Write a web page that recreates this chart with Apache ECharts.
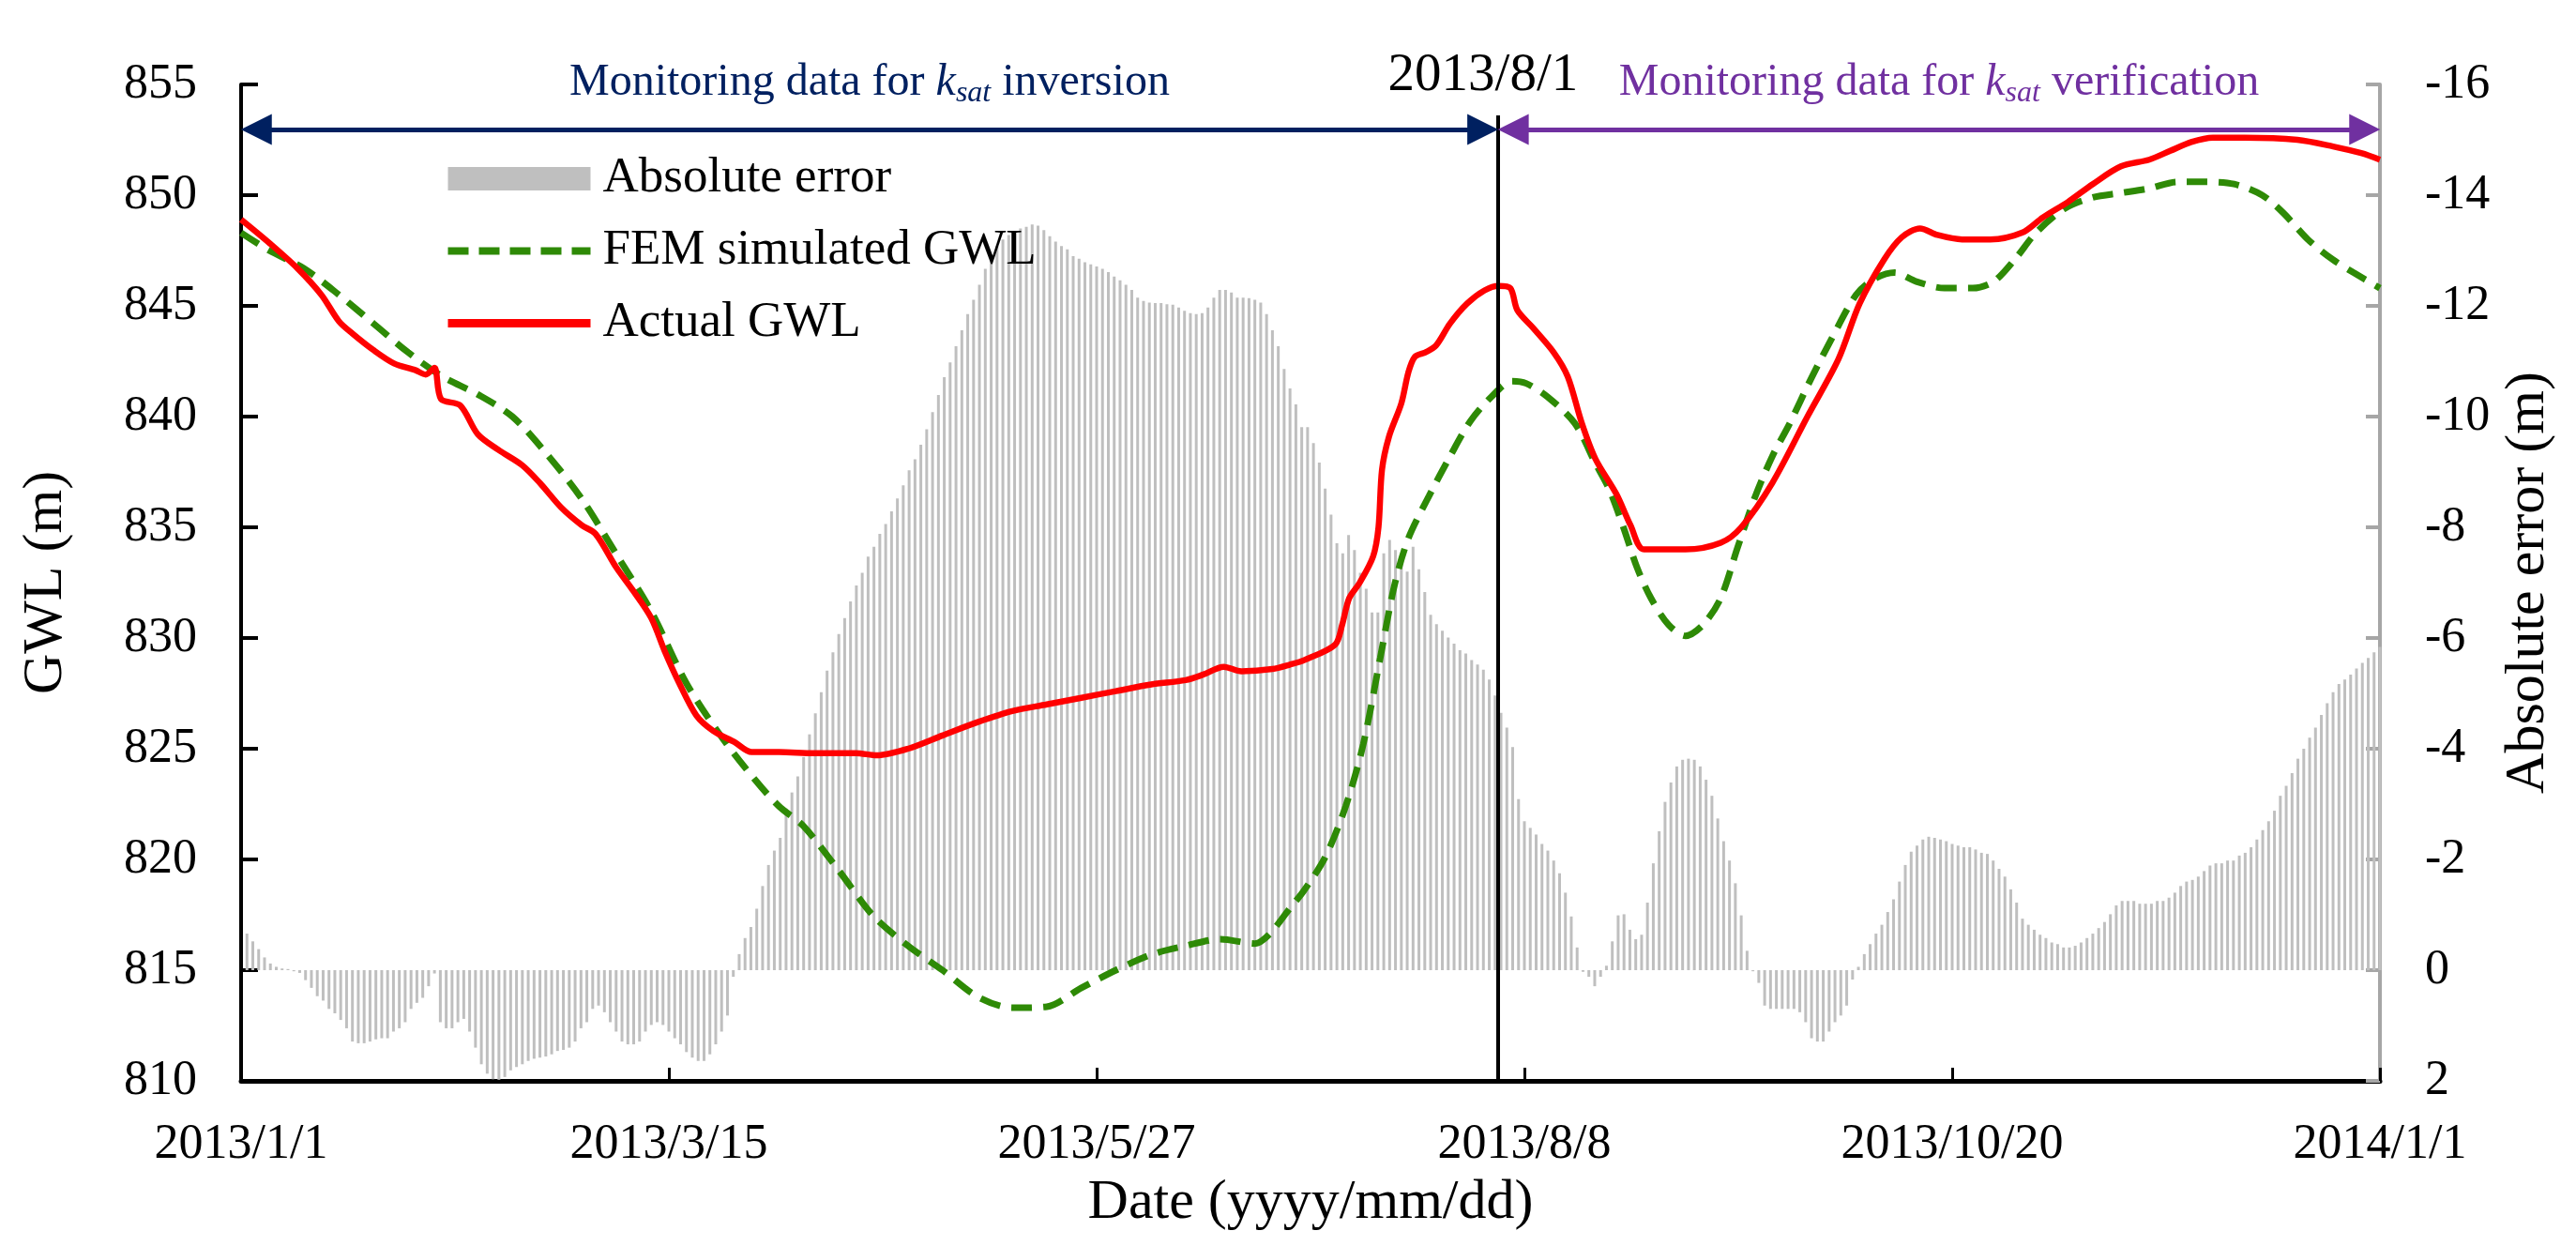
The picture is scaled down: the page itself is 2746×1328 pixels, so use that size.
<!DOCTYPE html>
<html>
<head>
<meta charset="utf-8">
<script src="https://cdn.jsdelivr.net/npm/echarts@6/dist/echarts.min.js"></script>
<style>
html,body{margin:0;padding:0;background:#fff;}
#chart{width:2746px;height:1328px;}
</style>
</head>
<body>
<div id="chart"></div>
<script>
// ---------- data ----------
// x values are day numbers counted from 2013/1/1 (day 0) to 2014/1/1 (day 365)
const xTickLabels = ['2013/1/1', '2013/3/15', '2013/5/27', '2013/8/8', '2013/10/20', '2014/1/1'];
const splitDay = 214.5;          // vertical line "2013/8/1"
const arrowLevel = 852.97;       // GWL level of the two range arrows

// Actual GWL [day, m]
const actualGWL = [
  [0,848.9],[5,847.8],[9.6,846.7],[13.7,845.5],[16.7,844.3],[19,843.75],[22.6,843.0],[26.1,842.4],
  [29.7,842.1],[31.5,841.9],[33,842.2],[34.1,840.8],[37.4,840.5],[40.4,839.2],[43.9,838.5],[48,837.8],
  [51,837.0],[54.6,835.9],[58.1,835.1],[60.5,834.7],[64,833.2],[67,832.1],[70,830.9],[72.3,829.4],
  [74.7,828.0],[77.7,826.5],[80.6,825.8],[84.2,825.3],[87.1,824.85],[91.8,824.85],[97.8,824.8],
  [104.9,824.8],[108.5,824.7],[113.8,825.0],[119.7,825.6],[125.7,826.2],[131.6,826.7],[137.5,827.0],
  [143.4,827.3],[149.3,827.6],[155.3,827.9],[161.2,828.1],[164.2,828.35],[167.7,828.7],[170.7,828.5],
  [176,828.6],[179,828.8],[181.4,829.0],[186.7,829.7],[187.9,830.6],[189.1,831.8],[190.9,832.5],
  [193.2,833.7],[194.1,835.0],[194.7,837.6],[195.9,839.1],[198.0,840.6],[199.2,842.0],[200.3,842.7],
  [202.1,842.9],[203.9,843.2],[206.3,844.2],[209.2,845.1],[212.2,845.7],[214.6,845.9],[216.6,845.8],
  [217.8,844.8],[220.5,844.0],[224.0,842.9],[226.4,841.8],[228.8,839.7],[231.1,838.1],[234.7,836.5],
  [237.1,835.1],[239.4,834.0],[246.5,834.0],[252.5,834.3],[256,835.0],[261.3,837.0],[267.3,840.0],
  [272.6,842.6],[276.2,845.1],[280.4,847.1],[283.4,848.1],[286.5,848.5],[289.5,848.2],[293.7,848.0],
  [298.5,848.0],[303.9,848.3],[307.5,849.0],[311.8,849.7],[316,850.5],[320.8,851.3],[325.6,851.6],
  [329.2,852.0],[332.8,852.4],[336.5,852.6],[341.9,852.6],[350.9,852.5],[357,852.2],[361.8,851.9],[365,851.6]
];

// FEM simulated GWL [day, m]
const femGWL = [
  [0,848.3],[4.8,847.5],[10.7,846.7],[16.7,845.5],[22.6,844.2],[28.5,842.9],[34.4,841.8],[40.4,841.0],
  [46.3,840.0],[52.2,838.3],[58.1,836.3],[64,833.8],[70,831.2],[75.9,828.0],[81.8,825.6],[87.7,823.6],
  [91.8,822.4],[96,821.5],[102,819.5],[107.9,817.45],[113.8,816.1],[119.7,815.0],[125.7,813.8],
  [131.6,813.3],[137.5,813.35],[143.4,814.2],[149.3,815.0],[155.3,815.7],[161.2,816.1],[167.1,816.4],
  [173,816.2],[175.4,816.6],[179,817.8],[181.4,818.6],[185,820.1],[188.5,822.4],[191.5,825.2],
  [194.4,829.1],[196.8,832.35],[199.2,834.5],[202.7,836.4],[206.3,838.2],[209.8,839.8],[213.4,840.9],
  [216.9,841.6],[219.3,841.5],[222.9,840.9],[227.6,839.7],[231.1,837.9],[233.5,836.7],[235.9,835.0],
  [238.2,833.2],[240.6,831.8],[243.6,830.6],[246.5,830.1],[249.5,830.6],[252.5,831.8],[255.4,834.1],
  [258.4,836.4],[261.3,838.2],[264.3,839.7],[267.9,841.7],[271.4,843.5],[275.6,845.5],[278.6,846.2],
  [282.2,846.5],[285.9,846.1],[290.7,845.8],[295.5,845.8],[299.1,846.1],[302.7,847.1],[306.3,848.3],
  [311.2,849.4],[316,849.9],[320.8,850.1],[325.6,850.3],[330.4,850.6],[335.3,850.6],[340.1,850.5],
  [344.9,850.0],[348.5,849.2],[352.7,848.0],[356.9,847.1],[360.5,846.5],[365,845.8]
];

// Absolute error (m), one value per day, day 1 .. day 365
const absErrStartDay = 1;
const absErr = [
  -0.66,-0.52,-0.38,-0.23,-0.12,-0.06,-0.03,-0.02,0.02,0.05,
  0.18,0.32,0.47,0.55,0.70,0.78,0.90,1.05,1.29,1.32,
  1.32,1.29,1.25,1.23,1.23,1.11,1.05,0.94,0.70,0.59,
  0.50,0.29,0.06,0.94,1.05,1.05,0.94,0.88,1.11,1.40,
  1.70,1.87,1.97,1.98,1.93,1.81,1.75,1.70,1.64,1.60,
  1.58,1.56,1.52,1.46,1.44,1.40,1.29,1.05,0.94,0.70,
  0.64,0.76,0.94,1.11,1.29,1.34,1.34,1.29,1.11,0.99,
  0.94,0.99,1.11,1.23,1.34,1.48,1.58,1.64,1.64,1.52,
  1.34,1.11,0.82,0.12,-0.29,-0.58,-0.78,-1.11,-1.52,
  -1.90,-2.16,-2.39,-2.92,-3.21,-3.50,-3.85,-4.26,-4.64,-5.02,
  -5.41,-5.74,-6.07,-6.36,-6.66,-6.95,-7.18,-7.47,-7.65,-7.88,
  -8.06,-8.29,-8.52,-8.76,-9.03,-9.23,-9.49,-9.77,-10.08,-10.39,
  -10.71,-10.98,-11.27,-11.56,-11.85,-12.11,-12.38,-12.67,-12.93,-13.08,
  -13.20,-13.28,-13.31,-13.40,-13.43,-13.47,-13.45,-13.37,-13.26,-13.16,
  -13.08,-13.02,-12.90,-12.85,-12.79,-12.75,-12.71,-12.67,-12.61,-12.53,
  -12.46,-12.38,-12.29,-12.15,-12.09,-12.06,-12.05,-12.05,-12.03,-12.02,
  -11.97,-11.91,-11.87,-11.85,-11.87,-11.97,-12.15,-12.29,-12.29,-12.24,
  -12.15,-12.15,-12.14,-12.11,-12.06,-11.85,-11.56,-11.27,-10.86,-10.51,
  -10.22,-9.81,
  -9.81,-9.52,-9.17,-8.70,-8.23,-7.71,-7.53,-7.86,-7.59,-7.18,
  -6.89,-6.46,-6.46,-7.53,-7.77,-7.59,-7.47,-7.20,-7.65,-7.24,
  -6.83,-6.42,-6.25,-6.13,-6.01,-5.90,-5.78,-5.72,-5.60,-5.52,
  -5.43,-5.25,-4.96,-4.65,-4.38,-4.03,-3.09,-2.69,-2.57,-2.45,
  -2.28,-2.16,-1.98,-1.75,-1.40,-0.97,-0.41,0.03,0.12,0.29,
  0.12,-0.08,-0.52,-0.99,-1.01,-0.73,-0.56,-0.64,-1.22,-1.93,
  -2.51,-3.04,-3.39,-3.68,-3.80,-3.82,-3.80,-3.68,-3.44,-3.15,
  -2.74,-2.33,-1.98,-1.57,-0.99,-0.35,0.02,0.23,0.64,0.70,
  0.70,0.70,0.70,0.70,0.76,0.94,1.23,1.29,1.29,1.11,
  0.94,0.82,0.64,
  0.17,-0.06,-0.29,-0.47,-0.66,-0.82,-1.05,-1.28,-1.60,-1.90,
  -2.14,-2.25,-2.36,-2.41,-2.39,-2.36,-2.33,-2.28,-2.25,-2.22,
  -2.22,-2.18,-2.12,-2.10,-1.98,-1.83,-1.69,-1.46,-1.22,-0.93,
  -0.82,-0.73,-0.64,-0.58,-0.50,-0.47,-0.41,-0.41,-0.44,-0.50,
  -0.58,-0.66,-0.76,-0.87,-1.01,-1.17,-1.25,-1.25,-1.25,-1.20,
  -1.20,-1.20,-1.25,-1.25,-1.31,-1.40,-1.52,-1.60,-1.63,-1.69,
  -1.79,-1.89,-1.93,-1.93,-1.98,-1.98,-2.07,-2.12,-2.22,-2.36,
  -2.53,-2.69,-2.88,-3.15,-3.33,-3.56,-3.82,-4.00,-4.20,-4.38,
  -4.61,-4.82,-5.02,-5.17,-5.25,-5.34,-5.45,-5.55,-5.64,-5.74,-5.84
];

// ---------- chart ----------
const FONT = 'Liberation Serif';
const chart = echarts.init(document.getElementById('chart'), null, {renderer: 'canvas'});

const barData = absErr.map((v, i) => [absErrStartDay + i, v]);

const titleRich = (color) => ({
  n: {fontFamily: FONT, fontSize: 48, color: color, lineHeight: 56, verticalAlign: 'middle'},
  k: {fontFamily: FONT, fontSize: 48, color: color, fontStyle: 'italic', lineHeight: 56, verticalAlign: 'middle'},
  s: {fontFamily: FONT, fontSize: 32, color: color, fontStyle: 'italic', lineHeight: 30, verticalAlign: 'bottom'}
});

const option = {
  animation: false,
  backgroundColor: '#ffffff',
  grid: {left: 257, right: 209, top: 90, bottom: 176, containLabel: false},
  legend: {
    orient: 'vertical', left: 473, top: 164, padding: 0,
    itemWidth: 152, itemHeight: 25, itemGap: 24,
    textStyle: {fontFamily: FONT, fontSize: 53, color: '#000', padding: [0, 0, 0, 8]},
    lineStyle: {width: 8},
    data: [
      {name: 'Absolute error', icon: 'rect'},
      {name: 'FEM simulated GWL', itemStyle: {opacity: 0}, lineStyle: {width: 8, type: [22, 11]}},
      {name: 'Actual GWL', itemStyle: {opacity: 0}, lineStyle: {width: 9, type: 'solid'}}
    ]
  },
  xAxis: {
    type: 'value', min: 0, max: 365, interval: 73,
    name: 'Date (yyyy/mm/dd)', nameLocation: 'middle', nameGap: 100,
    nameTextStyle: {fontFamily: FONT, fontSize: 60, color: '#000'},
    axisLine: {show: true, onZero: false, lineStyle: {color: '#000', width: 5}},
    axisTick: {show: true, inside: true, length: 14, lineStyle: {color: '#000', width: 3}},
    axisLabel: {
      fontFamily: FONT, fontSize: 52, color: '#000', margin: 42,
      showMinLabel: true, showMaxLabel: true,
      formatter: (v) => xTickLabels[Math.round(v / 73)]
    },
    splitLine: {show: false}
  },
  yAxis: [
    {
      type: 'value', min: 810, max: 855, interval: 5, position: 'left',
      name: 'GWL (m)', nameLocation: 'middle', nameGap: 178,
      nameTextStyle: {fontFamily: FONT, fontSize: 60, color: '#000'},
      axisLine: {show: true, lineStyle: {color: '#000', width: 4}},
      axisTick: {show: true, inside: true, length: 18, lineStyle: {color: '#000', width: 4}},
      axisLabel: {fontFamily: FONT, fontSize: 52, color: '#000', margin: 47},
      splitLine: {show: false}
    },
    {
      type: 'value', min: -16, max: 2, interval: 2, position: 'right', inverse: true,
      name: 'Absolute error (m)', nameLocation: 'middle', nameGap: 118,
      nameTextStyle: {fontFamily: FONT, fontSize: 60, color: '#000'},
      axisLine: {show: true, lineStyle: {color: '#a6a6a6', width: 4}},
      axisTick: {show: true, inside: true, length: 15, lineStyle: {color: '#a6a6a6', width: 4}},
      axisLabel: {fontFamily: FONT, fontSize: 52, color: '#000', margin: 48},
      splitLine: {show: false}
    }
  ],
  series: [
    {
      name: 'Absolute error', type: 'bar', yAxisIndex: 1, barWidth: 3,
      itemStyle: {color: '#bfbfbf'}, data: barData, silent: true
    },
    {
      name: 'FEM simulated GWL', type: 'line', yAxisIndex: 0, smooth: 0.3,
      showSymbol: false, symbol: 'none',
      lineStyle: {color: '#2e8a06', width: 7, type: [22, 12]},
      itemStyle: {color: '#2e8a06'},
      data: femGWL, silent: true, z: 3
    },
    {
      name: 'Actual GWL', type: 'line', yAxisIndex: 0, smooth: 0.3,
      showSymbol: false, symbol: 'none',
      lineStyle: {color: '#ff0000', width: 6.5},
      itemStyle: {color: '#ff0000'},
      data: actualGWL, silent: true, z: 4,
      markLine: {
        silent: true, animation: false, precision: 4,
        symbol: ['none', 'none'],
        data: [
          [
            {coord: [splitDay, 853.6], symbol: 'none',
             lineStyle: {color: '#000', width: 4, type: 'solid'},
             label: {show: true, position: 'start', formatter: '2013/8/1',
                     fontFamily: FONT, fontSize: 57, color: '#000', distance: 14, padding: [0, 32, 0, 0]}},
            {coord: [splitDay, 810], symbol: 'none'}
          ],
          [
            {coord: [2.6, arrowLevel], symbol: 'triangle', symbolSize: [33, 33],
             lineStyle: {color: '#002060', width: 5, type: 'solid'},
             itemStyle: {color: '#002060'},
             label: {show: true, position: 'insideMiddleTop', distance: 22,
                     formatter: '{n|Monitoring data for }{k|k}{s|sat}{n| inversion}',
                     rich: titleRich('#002060')}},
            {coord: [splitDay - 2.6, arrowLevel], symbol: 'triangle', symbolSize: [33, 33]}
          ],
          [
            {coord: [splitDay + 2.6, arrowLevel], symbol: 'triangle', symbolSize: [33, 33],
             lineStyle: {color: '#7030a0', width: 5, type: 'solid'},
             itemStyle: {color: '#7030a0'},
             label: {show: true, position: 'insideMiddleTop', distance: 22,
                     formatter: '{n|Monitoring data for }{k|k}{s|sat}{n| verification}',
                     rich: titleRich('#7030a0')}},
            {coord: [362.4, arrowLevel], symbol: 'triangle', symbolSize: [33, 33]}
          ]
        ]
      }
    }
  ]
};
chart.setOption(option);
</script>
</body>
</html>
